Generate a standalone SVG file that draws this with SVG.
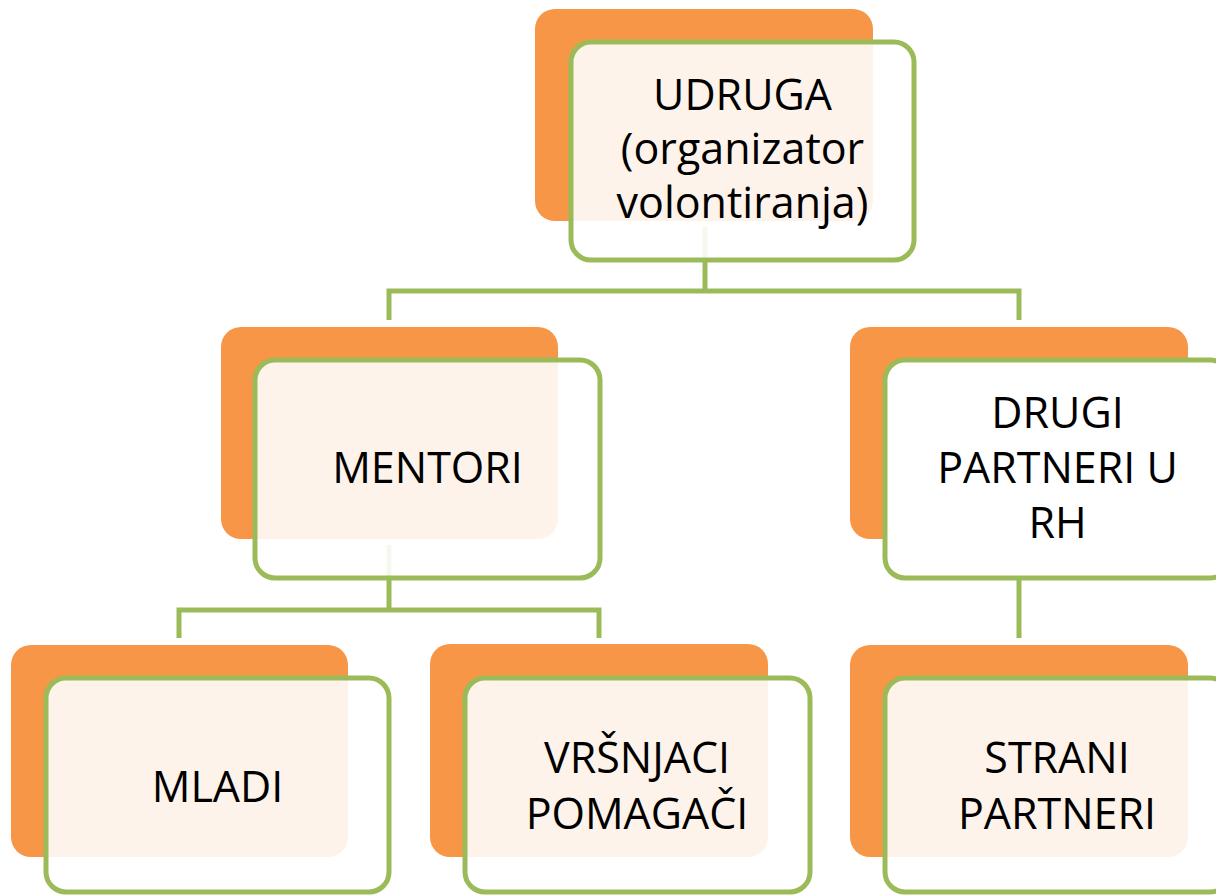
<svg xmlns="http://www.w3.org/2000/svg" width="1216" height="895" viewBox="0 0 1216 895">
<style>
.back{fill:#F79646}
.front{fill:#FFFFFF;fill-opacity:0.89;stroke:#9BBB59;stroke-width:5}
.solid{fill:#FFFFFF;stroke:#9BBB59;stroke-width:5}
.conn{fill:none;stroke:#9BBB59;stroke-width:5}
text{font-family:"Open Sans","Liberation Sans",sans-serif;font-size:43px;fill:#000;text-anchor:middle}
</style>
<rect width="1216" height="895" fill="#FFFFFF"/>
<g id="connectors">
<path class="conn" d="M705 227 V291 M389 320 V291 H1019 V320"/>
<path class="conn" d="M389 545 V610 M179 638 V610 H599 V638"/>
<path class="conn" d="M1019 578 V638"/>
</g>
<g id="udruga">
<rect class="back" x="535" y="9" width="338" height="212" rx="20"/>
<rect class="front" x="571" y="42" width="343" height="218" rx="20"/>
<text x="742.5" y="110">UDRUGA</text>
<text x="742.5" y="164">(organizator</text>
<text x="742.5" y="218">volontiranja)</text>
</g>
<g id="mentori">
<rect class="back" x="221" y="327" width="337" height="212" rx="20"/>
<rect class="front" x="255" y="360" width="345" height="218" rx="20"/>
<text x="427.5" y="483">MENTORI</text>
</g>
<g id="drugi-partneri">
<rect class="back" x="850" y="327" width="338" height="212" rx="20"/>
<rect class="solid" x="885" y="360" width="345" height="218" rx="20"/>
<text x="1057.5" y="428">DRUGI</text>
<text x="1057.5" y="483">PARTNERI U</text>
<text x="1057.5" y="538">RH</text>
</g>
<g id="mladi">
<rect class="back" x="11" y="645" width="337" height="212" rx="20"/>
<rect class="front" x="46" y="678" width="343" height="214" rx="20"/>
<text x="217.5" y="802">MLADI</text>
</g>
<g id="vrsnjaci">
<rect class="back" x="430" y="644" width="338" height="213" rx="20"/>
<rect class="front" x="465" y="678" width="345" height="214" rx="20"/>
<text x="637" y="773">VRŠNJACI</text>
<text x="637" y="829">POMAGAČI</text>
</g>
<g id="strani-partneri">
<rect class="back" x="850" y="645" width="338" height="212" rx="20"/>
<rect class="front" x="885" y="678" width="345" height="214" rx="20"/>
<text x="1057" y="773">STRANI</text>
<text x="1057" y="829">PARTNERI</text>
</g>
</svg>
